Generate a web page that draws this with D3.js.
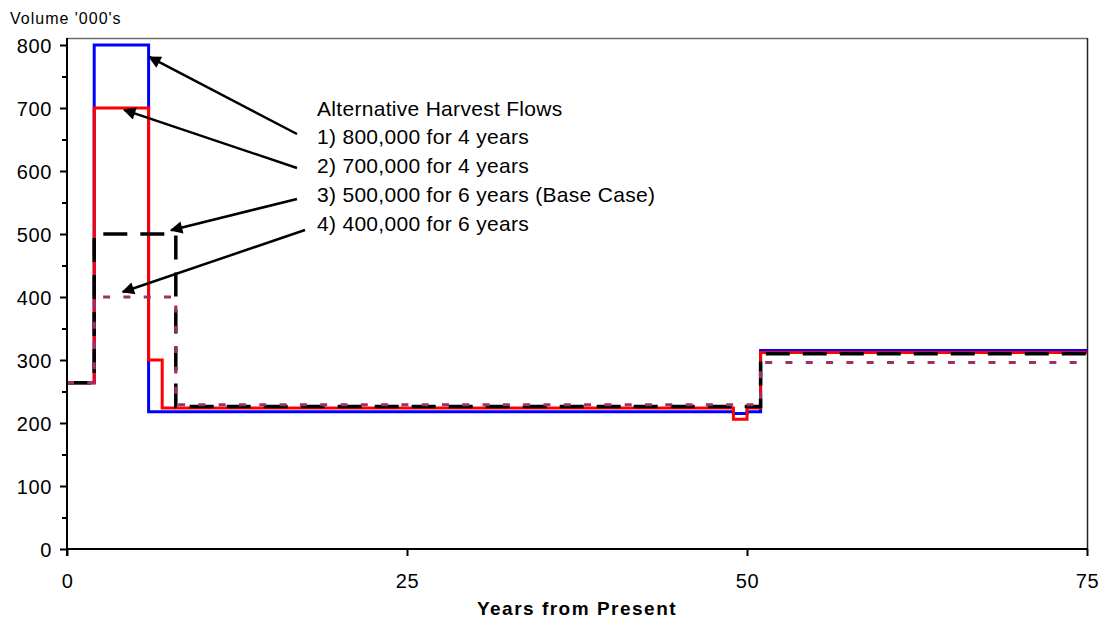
<!DOCTYPE html>
<html>
<head>
<meta charset="utf-8">
<script src="https://cdn.jsdelivr.net/npm/d3@7"></script>
<style>
  html, body { margin: 0; padding: 0; background: #fff; }
  svg { display: block; font-family: "Liberation Sans", Arial, sans-serif; }
</style>
</head>
<body>
<svg id="chart" width="1102" height="618"></svg>
<script>
// Break points (years) where the harvest level changes; each series holds the level from that year on
const flowYears = [0, 2, 6, 7, 8, 49, 50, 51, 75];
const flow800 = [264, 800, 218, 218, 218, 215, 218, 315, 315];
const flow700 = [264, 700, 300, 224, 224, 206, 224, 312, 312];
const flow500 = [264, 500, 500, 500, 226, 226, 226, 310, 310];
const flow400 = [264, 400, 400, 400, 229, 229, 229, 296, 296];

const legendTitle = "Alternative Harvest Flows";
const seriesLabels = [
  "1) 800,000 for 4 years",
  "2) 700,000 for 4 years",
  "3) 500,000 for 6 years (Base Case)",
  "4) 400,000 for 6 years"
];
// Where each label's arrow points on its series (year, volume)
const arrowTipYears = [6.05, 4.2, 7.65, 4.1];
const arrowTipValues = [781, 697, 506, 408];

const yTicks = [0, 100, 200, 300, 400, 500, 600, 700, 800];
const yMinorTicks = [50, 150, 250, 350, 450, 550, 650, 750];
const xTicks = [0, 25, 50, 75];

const svg = d3.select("#chart");
const plotLeft = 67, plotRight = 1087, plotTop = 38, plotBottom = 549;

const x = d3.scaleLinear().domain([0, 75]).range([plotLeft, plotRight]);
const y = d3.scaleLinear().domain([0, 800]).range([plotBottom, 45]);

// Plot frame
svg.append("line").attr("x1", plotLeft).attr("x2", plotRight).attr("y1", plotTop + 0.5).attr("y2", plotTop + 0.5)
  .attr("stroke", "#6e6e6e").attr("stroke-width", 1.5);
svg.append("line").attr("x1", plotRight + 0.5).attr("x2", plotRight + 0.5).attr("y1", plotTop).attr("y2", plotBottom)
  .attr("stroke", "#222").attr("stroke-width", 1.5);

// Series
const series = [
  { values: flow800, color: "#0000ff", width: 3, dash: null },
  { values: flow700, color: "#ff0000", width: 3, dash: null },
  { values: flow500, color: "#000000", width: 3.5, dash: "24,13" },
  { values: flow400, color: "#993366", width: 3.2, dash: "7,13.3" }
];
const line = d3.line()
  .x(d => x(d[0]))
  .y(d => y(d[1]))
  .curve(d3.curveStepAfter);

series.forEach(s => {
  const pts = flowYears.map((yr, i) => [yr, s.values[i]]);
  svg.append("path")
    .datum(pts)
    .attr("d", line)
    .attr("fill", "none")
    .attr("stroke", s.color)
    .attr("stroke-width", s.width)
    .attr("stroke-dasharray", s.dash)
    .attr("stroke-linejoin", "miter")
    .attr("stroke-linecap", "butt");
});

// Axes
const yAxis = svg.append("g").attr("transform", `translate(${plotLeft},0)`)
  .call(d3.axisLeft(y).tickValues(yTicks).tickSize(7).tickPadding(8).tickSizeOuter(0));
svg.append("g").attr("transform", `translate(${plotLeft},0)`)
  .call(d3.axisLeft(y).tickValues(yMinorTicks).tickSize(5).tickFormat("").tickSizeOuter(0))
  .select(".domain").remove();
const xAxis = svg.append("g").attr("transform", `translate(0,${plotBottom})`)
  .call(d3.axisBottom(x).tickValues(xTicks).tickSize(7).tickPadding(18).tickSizeOuter(0));

svg.selectAll(".domain").attr("stroke", "#000").attr("stroke-width", 2);
svg.selectAll(".tick line").attr("stroke", "#000").attr("stroke-width", 2);
svg.selectAll(".tick text").attr("fill", "#000")
  .style("font-size", "20px").style("letter-spacing", "0.6px")
  .style("font-family", "'Liberation Sans', Arial, sans-serif");
yAxis.selectAll(".tick text").attr("dy", "0.37em");
yAxis.select(".domain").attr("d", `M0,${plotTop}V${plotBottom + 7}`);
xAxis.select(".domain").attr("d", `M${plotLeft},0H${plotRight}`);

// Axis titles
svg.append("text").attr("x", 10).attr("y", 24)
  .style("font-size", "16px").style("letter-spacing", "1px").text("Volume '000's");
svg.append("text").attr("x", (plotLeft + plotRight) / 2).attr("y", 615)
  .attr("text-anchor", "middle").style("font-size", "19px").style("font-weight", "bold")
  .style("letter-spacing", "1.5px")
  .text("Years from Present");

// Legend block with arrows
const defs = svg.append("defs");
defs.append("marker").attr("id", "arrow")
  .attr("viewBox", "0 0 10 10").attr("refX", 9).attr("refY", 5)
  .attr("markerWidth", 6).attr("markerHeight", 5).attr("markerUnits", "strokeWidth")
  .attr("orient", "auto")
  .append("path").attr("d", "M0,0L10,5L0,10z").attr("fill", "#000");

const textX = 317, firstBaseline = 115.5, lineGap = 28.8;
const legendFont = "21px";
svg.append("text").attr("x", textX).attr("y", firstBaseline)
  .style("font-size", legendFont).style("letter-spacing", "0.3px").text(legendTitle);
const tails = [[297, 134], [297, 168], [297, 199], [305, 230]];
seriesLabels.forEach((lbl, i) => {
  svg.append("text").attr("x", textX).attr("y", firstBaseline + lineGap * (i + 1))
    .style("font-size", legendFont).style("letter-spacing", "0.3px").text(lbl);
  svg.append("line")
    .attr("x1", tails[i][0]).attr("y1", tails[i][1])
    .attr("x2", x(arrowTipYears[i])).attr("y2", y(arrowTipValues[i]))
    .attr("stroke", "#000").attr("stroke-width", 2.5)
    .attr("marker-end", "url(#arrow)");
});
</script>
</body>
</html>
